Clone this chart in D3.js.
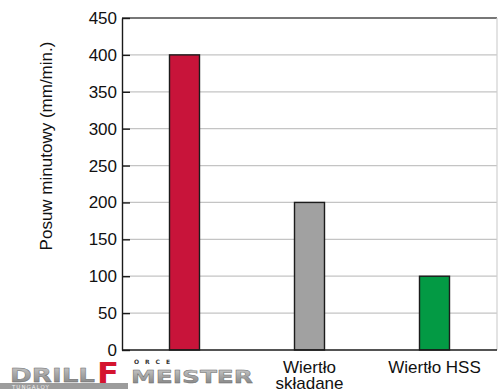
<!DOCTYPE html>
<html>
<head>
<meta charset="utf-8">
<script src="https://cdn.jsdelivr.net/npm/d3@7"></script>
<style>
  html, body { margin: 0; padding: 0; background: #fff; }
  svg { display: block; }
</style>
</head>
<body>
<svg id="chart" width="498" height="389"></svg>
<script>
// Feed rate comparison: DrillForce Meister vs. indexable drill vs. HSS drill
const categories = ["DrillForce Meister", "Wiertło składane", "Wiertło HSS"];
const feedRates = [400, 200, 100];
const barColors = ["#c8143a", "#a1a1a1", "#039a44"];
const yTicks = [0, 50, 100, 150, 200, 250, 300, 350, 400, 450];
const yTitle = "Posuw minutowy (mm/min.)";
const categoryLabels = [null, ["Wiertło", "składane"], ["Wiertło HSS"]];

const svg = d3.select("#chart");
const plotLeft = 122, plotRight = 497, plotTop = 18, plotBottom = 350;
const font = "'Liberation Sans', Arial, Helvetica, sans-serif";

const x = d3.scaleBand()
  .domain(categories)
  .range([plotLeft, plotRight])
  .paddingInner(0.76)
  .paddingOuter(0.38);

const y = d3.scaleLinear()
  .domain([0, 450])
  .range([plotBottom, plotTop]);

// Horizontal gridlines
svg.append("g")
  .selectAll("line")
  .data(yTicks.filter(d => d > 0 && d < 450))
  .join("line")
  .attr("x1", plotLeft).attr("x2", plotRight)
  .attr("y1", d => y(d)).attr("y2", d => y(d))
  .attr("stroke", "#c4c4c4")
  .attr("stroke-width", 1.2);

// Frame: top edge and right edge
svg.append("line")
  .attr("x1", plotLeft).attr("x2", plotRight)
  .attr("y1", y(450)).attr("y2", y(450))
  .attr("stroke", "#4a4a4a").attr("stroke-width", 1.6);
svg.append("line")
  .attr("x1", plotRight).attr("x2", plotRight)
  .attr("y1", y(450)).attr("y2", y(0))
  .attr("stroke", "#d0d0d0").attr("stroke-width", 1.2);

// Bars
svg.append("g")
  .selectAll("rect")
  .data(feedRates)
  .join("rect")
  .attr("x", (d, i) => x(categories[i]))
  .attr("width", x.bandwidth())
  .attr("y", d => y(d))
  .attr("height", d => y(0) - y(d))
  .attr("fill", (d, i) => barColors[i])
  .attr("stroke", "#1c1c1c")
  .attr("stroke-width", 1.4);

// Y axis with inward ticks
const yAxis = svg.append("g")
  .attr("transform", `translate(${plotLeft},0)`)
  .call(d3.axisLeft(y).tickValues(yTicks).tickSizeInner(-8).tickSizeOuter(0).tickPadding(5));
yAxis.select(".domain").attr("stroke", "#1a1a1a").attr("stroke-width", 1.4);
yAxis.selectAll(".tick line").attr("stroke", "#1a1a1a").attr("stroke-width", 1.4);
yAxis.selectAll(".tick text")
  .attr("font-family", font)
  .attr("font-size", 17)
  .attr("fill", "#111");

// Baseline
svg.append("line")
  .attr("x1", plotLeft).attr("x2", plotRight)
  .attr("y1", y(0)).attr("y2", y(0))
  .attr("stroke", "#1a1a1a").attr("stroke-width", 1.4);

// Y axis title
svg.append("text")
  .attr("transform", `translate(52,146) rotate(-90)`)
  .attr("text-anchor", "middle")
  .attr("font-family", font)
  .attr("font-size", 17)
  .attr("fill", "#111")
  .text(yTitle);

// Category labels
categories.forEach((c, i) => {
  const lines = categoryLabels[i];
  if (!lines) return;
  const t = svg.append("text")
    .attr("text-anchor", "middle")
    .attr("font-family", font)
    .attr("font-size", 17)
    .attr("fill", "#111");
  lines.forEach((ln, j) => {
    t.append("tspan")
      .attr("x", x(c) + x.bandwidth() / 2)
      .attr("y", 373 + j * 16)
      .text(ln);
  });
});

// Brand wordmark under the first bar
const defs = svg.append("defs");
const grad = defs.append("linearGradient")
  .attr("id", "steel").attr("x1", 0).attr("y1", 0).attr("x2", 0).attr("y2", 1);
grad.append("stop").attr("offset", "0%").attr("stop-color", "#d4d4d4");
grad.append("stop").attr("offset", "45%").attr("stop-color", "#a9a9a9");
grad.append("stop").attr("offset", "100%").attr("stop-color", "#7a7a7a");

const logo = svg.append("g");
logo.append("rect")
  .attr("x", 0).attr("y", 383).attr("width", 128).attr("height", 6)
  .attr("fill", "#9c9c9c");
logo.append("text")
  .attr("x", 12).attr("y", 388.5)
  .attr("font-family", "'DejaVu Sans', sans-serif")
  .attr("font-size", 5.5)
  .attr("letter-spacing", 1)
  .attr("fill", "#eee")
  .text("TUNGALOY");
logo.append("text")
  .attr("x", 10).attr("y", 382)
  .attr("font-family", "'DejaVu Sans', sans-serif")
  .attr("font-weight", "bold")
  .attr("font-size", 20)
  .attr("textLength", 85)
  .attr("lengthAdjust", "spacingAndGlyphs")
  .attr("fill", "url(#steel)")
  .attr("stroke", "#6c6c6c").attr("stroke-width", 0.4)
  .text("DRILL");
logo.append("text")
  .attr("x", 97).attr("y", 383)
  .attr("font-family", "'DejaVu Sans', sans-serif")
  .attr("font-weight", "bold")
  .attr("font-size", 29)
  .attr("textLength", 22)
  .attr("lengthAdjust", "spacingAndGlyphs")
  .attr("fill", "#d4142f")
  .text("F");
logo.append("text")
  .attr("x", 134).attr("y", 364)
  .attr("font-family", "'DejaVu Sans', sans-serif")
  .attr("font-weight", "bold")
  .attr("font-size", 6)
  .attr("textLength", 36)
  .attr("lengthAdjust", "spacing")
  .attr("fill", "#333")
  .text("ORCE");
logo.append("text")
  .attr("x", 131).attr("y", 383)
  .attr("font-family", "'DejaVu Sans', sans-serif")
  .attr("font-weight", "bold")
  .attr("font-size", 18)
  .attr("textLength", 122)
  .attr("lengthAdjust", "spacingAndGlyphs")
  .attr("fill", "url(#steel)")
  .attr("stroke", "#6c6c6c").attr("stroke-width", 0.4)
  .text("MEISTER");
</script>
</body>
</html>
